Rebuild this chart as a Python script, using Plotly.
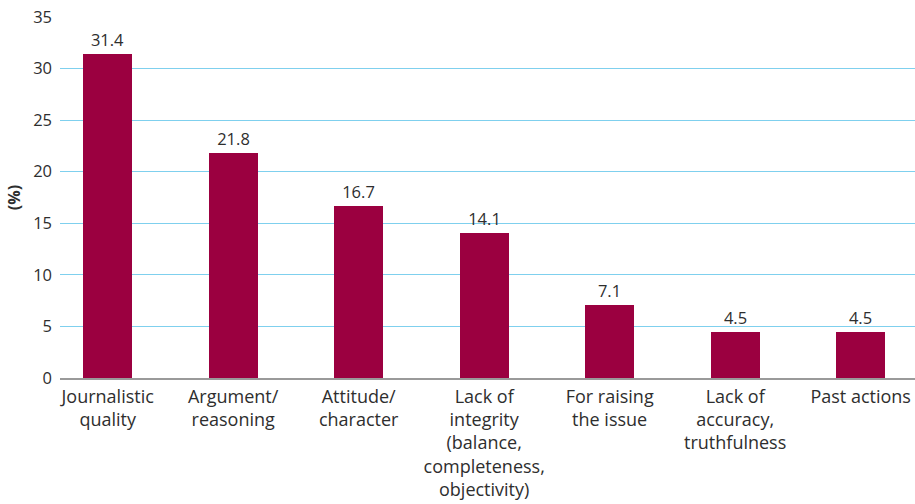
import plotly.graph_objects as go

categories = [
    "Journalistic<br>quality",
    "Argument/<br>reasoning",
    "Attitude/<br>character",
    "Lack of<br>integrity<br>(balance,<br>completeness,<br>objectivity)",
    "For raising<br>the issue",
    "Lack of<br>accuracy,<br>truthfulness",
    "Past actions",
]
values = [31.4, 21.8, 16.7, 14.1, 7.1, 4.5, 4.5]
y_ticks = [0, 5, 10, 15, 20, 25, 30, 35]

BAR = "#9b0040"
TEXT = "#2e2e2e"
GRID = "#7fd0ee"
FONT = "Open Sans"

fig = go.Figure(
    go.Bar(
        x=list(range(len(categories))),
        y=values,
        width=0.39,
        marker=dict(color=BAR, line=dict(width=0)),
        text=[f"{v:.1f}" for v in values],
        textposition="outside",
        textfont=dict(family=FONT, size=16.5, color=TEXT),
        cliponaxis=False,
    )
)

fig.update_layout(
    width=915,
    height=504,
    margin=dict(l=60, r=0, t=17, b=126),
    paper_bgcolor="white",
    plot_bgcolor="white",
    showlegend=False,
    bargap=0,
    font=dict(family=FONT, color=TEXT),
)

fig.update_xaxes(
    tickmode="array",
    tickvals=list(range(len(categories))),
    ticktext=categories,
    range=[-0.38, 6.433],
    showgrid=False,
    showline=True,
    linecolor="#9a9a9a",
    linewidth=2,
    ticks="",
    ticklabelstandoff=1,
    tickfont=dict(family=FONT, size=18, color=TEXT),
)

fig.update_yaxes(
    range=[0, 35],
    tickmode="array",
    tickvals=y_ticks,
    showgrid=True,
    gridcolor=GRID,
    gridwidth=1.3,
    zeroline=False,
    showline=False,
    ticks="",
    ticklabelstandoff=7,
    tickfont=dict(family=FONT, size=16.5, color=TEXT),
    title=dict(
        text="<b>(%)</b>",
        font=dict(family=FONT, size=16, color=TEXT),
        standoff=8,
    ),
)

fig.write_html("out.html")
